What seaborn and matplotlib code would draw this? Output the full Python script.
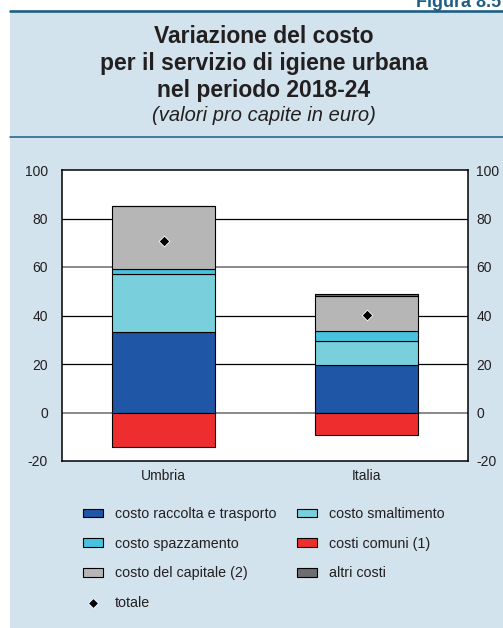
import matplotlib
matplotlib.use("Agg")
import matplotlib.pyplot as plt
import matplotlib.patches as mpatches
from matplotlib.lines import Line2D
import seaborn as sns
import pandas as pd
import numpy as np

# ---- data ----
regions = ["Umbria", "Italia"]
raccolta = [33.4, 19.4]
smaltimento = [23.8, 9.9]
spazzamento = [1.8, 4.4]
capitale = [26.1, 14.3]
altri = [0.0, 1.0]
comuni = [-14.3, -9.2]
totale = [70.8, 40.2]
yticks = [-20, 0, 20, 40, 60, 80, 100]

colors = {"costo raccolta e trasporto": "#1F56A5",
          "costo smaltimento": "#7ACFDD",
          "costo spazzamento": "#48C3DF",
          "costo del capitale (2)": "#B5B6B5",
          "altri costi": "#6D6E70",
          "costi comuni (1)": "#EE2E2E"}

sns.set_style("white")
plt.rcParams['font.family'] = ['Liberation Sans', 'DejaVu Sans']

W, H = 503, 628
fig = plt.figure(figsize=(W / 100, H / 100), dpi=100)
fig.patch.set_facecolor("white")

bg = "#D2E3ED"
linec = "#1D5E84"
fig.patches.append(mpatches.Rectangle((10 / W, 0), 1, 1 - 11 / H, transform=fig.transFigure,
                                      facecolor=bg, edgecolor="none", zorder=-10))
fig.add_artist(Line2D([10 / W, 1], [1 - 11 / H, 1 - 11 / H], color=linec, lw=1.9,
                      transform=fig.transFigure, zorder=-5))
fig.add_artist(Line2D([10 / W, 1], [1 - 137 / H, 1 - 137 / H], color=linec, lw=1.1,
                      transform=fig.transFigure, zorder=-5))

fig.text(416 / W, 1 - 7 / H, "Figura 8.5", ha="left", va="baseline", fontsize=13,
         fontweight="bold", color=linec)

tc = "#231F20"
cx = 264 / W
for txt, yb in [("Variazione del costo", 43), ("per il servizio di igiene urbana", 70),
                ("nel periodo 2018-24", 97)]:
    fig.text(cx, 1 - yb / H, txt, ha="center", va="baseline", fontsize=16.5,
             fontweight="bold", color=tc)
fig.text(cx, 1 - 121 / H, "(valori pro capite in euro)", ha="center", va="baseline",
         fontsize=14.5, fontstyle="italic", color=tc)

ax = fig.add_axes([62 / W, 1 - 461 / H, 406 / W, 291 / H])
ax.set_facecolor("white")
ax.set_zorder(1)

df = pd.DataFrame({"region": regions, "raccolta": raccolta, "smaltimento": smaltimento,
                   "spazzamento": spazzamento, "capitale": capitale, "altri": altri,
                   "comuni": comuni, "totale": totale})

bottom = np.zeros(len(regions))
stack = [("raccolta", "costo raccolta e trasporto"), ("smaltimento", "costo smaltimento"),
         ("spazzamento", "costo spazzamento"), ("capitale", "costo del capitale (2)"),
         ("altri", "altri costi")]
for col, name in stack:
    sns.barplot(data=df, x="region", y=col, bottom=bottom, color=colors[name],
                width=0.51, edgecolor="black", linewidth=0.8, ax=ax, zorder=3,
                saturation=1)
    bottom = bottom + df[col].values
sns.barplot(data=df, x="region", y="comuni", color=colors["costi comuni (1)"],
            width=0.51, edgecolor="black", linewidth=0.8, ax=ax, zorder=3, saturation=1)

sns.scatterplot(data=df, x="region", y="totale", marker="D", color="black",
                edgecolor="white", linewidth=0.6, s=30, ax=ax, zorder=5, legend=False)

for t in yticks[1:-1]:
    if t in (0, 60):
        ax.axhline(t, color="#808080", lw=1.3, zorder=1)
    else:
        ax.axhline(t, color="black", lw=0.9, zorder=1)

ax.set_xlim(-0.5, 1.5)
ax.set_ylim(-20, 100)
ax.set_yticks(yticks)
ax.set_yticklabels([str(t) for t in yticks])
ax.set_xlabel("")
ax.set_ylabel("")
ax.tick_params(axis="y", length=0, pad=10, labelsize=10, labelcolor=tc)
ax.tick_params(axis="x", length=0, pad=6, labelsize=10, labelcolor=tc)
for s in ax.spines.values():
    s.set_visible(True)
    s.set_color("black")
    s.set_linewidth(1.1)

ax2 = ax.twinx()
ax2.set_ylim(-20, 100)
ax2.set_yticks(yticks)
ax2.set_yticklabels([str(t) for t in yticks])
ax2.tick_params(axis="y", length=0, pad=6, labelsize=10, labelcolor=tc)
for s in ax2.spines.values():
    s.set_visible(False)

def patch(name):
    return mpatches.Patch(facecolor=colors[name], edgecolor="black", linewidth=0.8)

handles = [patch("costo raccolta e trasporto"), patch("costo spazzamento"),
           patch("costo del capitale (2)"),
           Line2D([], [], marker="D", color="black", markeredgecolor="white",
                  markeredgewidth=0.6, markersize=5.5, linestyle="none"),
           patch("costo smaltimento"), patch("costi comuni (1)"), patch("altri costi")]
labels = ["costo raccolta e trasporto", "costo spazzamento", "costo del capitale (2)",
          "totale", "costo smaltimento", "costi comuni (1)", "altri costi"]
fig.legend(handles, labels, ncol=2, loc="upper left",
           bbox_to_anchor=(83 / W, 1 - 507 / H), frameon=False, fontsize=10.3,
           handlelength=1.4, handleheight=0.55, handletextpad=0.84, labelspacing=1.1,
           columnspacing=1.4, borderpad=0, borderaxespad=0, labelcolor=tc)

fig.savefig("out.png", dpi=100, facecolor=fig.get_facecolor())
